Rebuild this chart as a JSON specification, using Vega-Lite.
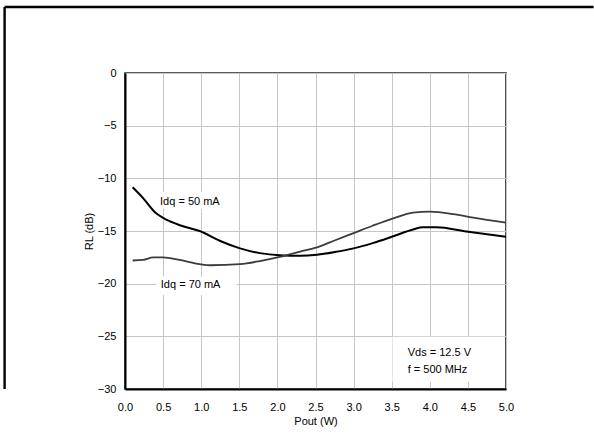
{
  "$schema": "https://vega.github.io/schema/vega-lite/v6.json",
  "width": 381,
  "height": 316,
  "autosize": "none",
  "padding": {"left": 125, "top": 73, "right": 88, "bottom": 50},
  "background": "white",
  "config": {
    "font": "Liberation Sans",
    "view": {"stroke": "#262626", "strokeWidth": 1.6},
    "axis": {
      "labelFont": "Liberation Sans",
      "titleFont": "Liberation Sans",
      "labelFontSize": 11,
      "titleFontSize": 11,
      "labelColor": "#000",
      "titleColor": "#000",
      "titleFontWeight": "normal",
      "gridColor": "#c6c6c6",
      "gridWidth": 1,
      "domainColor": "#000",
      "domainWidth": 2,
      "ticks": false,
      "labelOverlap": false,
      "labelFlush": false
    }
  },
  "datasets": {
    "curves": [
      {"pout": 0.1, "rl": -10.85, "idq": "50 mA"},
      {"pout": 0.24, "rl": -11.9, "idq": "50 mA"},
      {"pout": 0.39, "rl": -13.2, "idq": "50 mA"},
      {"pout": 0.55, "rl": -13.95, "idq": "50 mA"},
      {"pout": 0.72, "rl": -14.45, "idq": "50 mA"},
      {"pout": 0.98, "rl": -15.0, "idq": "50 mA"},
      {"pout": 1.25, "rl": -15.95, "idq": "50 mA"},
      {"pout": 1.51, "rl": -16.65, "idq": "50 mA"},
      {"pout": 1.77, "rl": -17.1, "idq": "50 mA"},
      {"pout": 2.03, "rl": -17.3, "idq": "50 mA"},
      {"pout": 2.3, "rl": -17.35, "idq": "50 mA"},
      {"pout": 2.52, "rl": -17.25, "idq": "50 mA"},
      {"pout": 2.75, "rl": -17.0, "idq": "50 mA"},
      {"pout": 3.0, "rl": -16.65, "idq": "50 mA"},
      {"pout": 3.25, "rl": -16.15, "idq": "50 mA"},
      {"pout": 3.52, "rl": -15.5, "idq": "50 mA"},
      {"pout": 3.78, "rl": -14.85, "idq": "50 mA"},
      {"pout": 3.91, "rl": -14.65, "idq": "50 mA"},
      {"pout": 4.09, "rl": -14.65, "idq": "50 mA"},
      {"pout": 4.48, "rl": -15.05, "idq": "50 mA"},
      {"pout": 5.0, "rl": -15.55, "idq": "50 mA"},
      {"pout": 0.1, "rl": -17.8, "idq": "70 mA"},
      {"pout": 0.24, "rl": -17.75, "idq": "70 mA"},
      {"pout": 0.37, "rl": -17.5, "idq": "70 mA"},
      {"pout": 0.5, "rl": -17.5, "idq": "70 mA"},
      {"pout": 0.72, "rl": -17.75, "idq": "70 mA"},
      {"pout": 0.98, "rl": -18.15, "idq": "70 mA"},
      {"pout": 1.12, "rl": -18.25, "idq": "70 mA"},
      {"pout": 1.51, "rl": -18.15, "idq": "70 mA"},
      {"pout": 1.77, "rl": -17.85, "idq": "70 mA"},
      {"pout": 2.03, "rl": -17.45, "idq": "70 mA"},
      {"pout": 2.3, "rl": -16.95, "idq": "70 mA"},
      {"pout": 2.52, "rl": -16.55, "idq": "70 mA"},
      {"pout": 2.75, "rl": -15.9, "idq": "70 mA"},
      {"pout": 3.0, "rl": -15.2, "idq": "70 mA"},
      {"pout": 3.25, "rl": -14.5, "idq": "70 mA"},
      {"pout": 3.52, "rl": -13.8, "idq": "70 mA"},
      {"pout": 3.78, "rl": -13.25, "idq": "70 mA"},
      {"pout": 4.0, "rl": -13.17, "idq": "70 mA"},
      {"pout": 4.31, "rl": -13.4, "idq": "70 mA"},
      {"pout": 4.57, "rl": -13.74, "idq": "70 mA"},
      {"pout": 5.0, "rl": -14.2, "idq": "70 mA"}
    ],
    "notes": [
      {"pout": 0.46, "rl": -12.2, "label": "Idq = 50 mA"},
      {"pout": 0.47, "rl": -20.13, "label": "Idq = 70 mA"},
      {"pout": 3.71, "rl": -26.6, "label": "Vds = 12.5 V"},
      {"pout": 3.71, "rl": -28.2, "label": "f = 500 MHz"}
    ],
    "anchor": [{}]
  },
  "layer": [
    {
      "data": {"name": "curves"},
      "mark": {"type": "line", "interpolate": "monotone", "opacity": 0},
      "encoding": {
        "x": {
          "field": "pout", "type": "quantitative",
          "scale": {"domain": [0, 5], "nice": false, "zero": false},
          "axis": {"values": [0, 0.5, 1, 1.5, 2, 2.5, 3, 3.5, 4, 4.5, 5], "format": ".1f", "title": "Pout (W)", "labelPadding": 12, "titlePadding": 3}
        },
        "y": {
          "field": "rl", "type": "quantitative",
          "scale": {"domain": [-30, 0], "nice": false, "zero": false},
          "axis": {"values": [-30, -25, -20, -15, -10, -5, 0], "title": "RL (dB)", "labelPadding": 9, "titlePadding": 3}
        },
        "detail": {"field": "idq"}
      }
    },
    {
      "data": {"name": "anchor"},
      "mark": {"type": "rect", "fill": "white"},
      "encoding": {
        "x": {"datum": 0.39, "type": "quantitative", "axis": {"values": [0, 0.5, 1, 1.5, 2, 2.5, 3, 3.5, 4, 4.5, 5], "format": ".1f", "title": "Pout (W)", "labelPadding": 12, "titlePadding": 3}},
        "x2": {"datum": 1.4},
        "y": {"datum": -11.3, "type": "quantitative", "axis": {"values": [-30, -25, -20, -15, -10, -5, 0], "title": "RL (dB)", "labelPadding": 9, "titlePadding": 3}},
        "y2": {"datum": -12.9}
      }
    },
    {
      "data": {"name": "anchor"},
      "mark": {"type": "rect", "fill": "white"},
      "encoding": {
        "x": {"datum": 0.415, "type": "quantitative", "axis": {"values": [0, 0.5, 1, 1.5, 2, 2.5, 3, 3.5, 4, 4.5, 5], "format": ".1f", "title": "Pout (W)", "labelPadding": 12, "titlePadding": 3}},
        "x2": {"datum": 1.466},
        "y": {"datum": -19.34, "type": "quantitative", "axis": {"values": [-30, -25, -20, -15, -10, -5, 0], "title": "RL (dB)", "labelPadding": 9, "titlePadding": 3}},
        "y2": {"datum": -21.08}
      }
    },
    {
      "data": {"name": "anchor"},
      "mark": {"type": "rect", "fill": "white"},
      "encoding": {
        "x": {"datum": 3.51, "type": "quantitative", "axis": {"values": [0, 0.5, 1, 1.5, 2, 2.5, 3, 3.5, 4, 4.5, 5], "format": ".1f", "title": "Pout (W)", "labelPadding": 12, "titlePadding": 3}},
        "x2": {"datum": 4.985},
        "y": {"datum": -25.04, "type": "quantitative", "axis": {"values": [-30, -25, -20, -15, -10, -5, 0], "title": "RL (dB)", "labelPadding": 9, "titlePadding": 3}},
        "y2": {"datum": -29.3}
      }
    },
    {
      "data": {"name": "curves"},
      "mark": {"type": "line", "interpolate": "monotone"},
      "encoding": {
        "x": {"field": "pout", "type": "quantitative", "axis": {"values": [0, 0.5, 1, 1.5, 2, 2.5, 3, 3.5, 4, 4.5, 5], "format": ".1f", "title": "Pout (W)", "labelPadding": 12, "titlePadding": 3}},
        "y": {"field": "rl", "type": "quantitative", "axis": {"values": [-30, -25, -20, -15, -10, -5, 0], "title": "RL (dB)", "labelPadding": 9, "titlePadding": 3}},
        "color": {
          "field": "idq", "type": "nominal",
          "scale": {"domain": ["50 mA", "70 mA"], "range": ["#000000", "#3c3c3c"]},
          "legend": null
        },
        "strokeWidth": {
          "field": "idq", "type": "nominal",
          "scale": {"domain": ["50 mA", "70 mA"], "range": [2, 1.8]},
          "legend": null
        }
      }
    },
    {
      "data": {"name": "notes"},
      "mark": {"type": "text", "align": "left", "baseline": "middle", "font": "Liberation Sans", "fontSize": 11, "color": "#000"},
      "encoding": {
        "x": {"field": "pout", "type": "quantitative", "axis": {"values": [0, 0.5, 1, 1.5, 2, 2.5, 3, 3.5, 4, 4.5, 5], "format": ".1f", "title": "Pout (W)", "labelPadding": 12, "titlePadding": 3}},
        "y": {"field": "rl", "type": "quantitative", "axis": {"values": [-30, -25, -20, -15, -10, -5, 0], "title": "RL (dB)", "labelPadding": 9, "titlePadding": 3}},
        "text": {"field": "label"}
      }
    },
    {
      "data": {"name": "anchor"},
      "mark": {"type": "rule", "color": "#000", "strokeWidth": 2.4, "clip": false},
      "encoding": {
        "x": {"datum": -1.58, "type": "quantitative", "axis": {"values": [0, 0.5, 1, 1.5, 2, 2.5, 3, 3.5, 4, 4.5, 5], "format": ".1f", "title": "Pout (W)", "labelPadding": 12, "titlePadding": 3}},
        "x2": {"datum": 6.15},
        "y": {"datum": 6.27, "type": "quantitative", "axis": {"values": [-30, -25, -20, -15, -10, -5, 0], "title": "RL (dB)", "labelPadding": 9, "titlePadding": 3}}
      }
    },
    {
      "data": {"name": "anchor"},
      "mark": {"type": "rule", "color": "#000", "strokeWidth": 2.4, "clip": false},
      "encoding": {
        "x": {"datum": -1.58, "type": "quantitative", "axis": {"values": [0, 0.5, 1, 1.5, 2, 2.5, 3, 3.5, 4, 4.5, 5], "format": ".1f", "title": "Pout (W)", "labelPadding": 12, "titlePadding": 3}},
        "y": {"datum": 6.27, "type": "quantitative", "axis": {"values": [-30, -25, -20, -15, -10, -5, 0], "title": "RL (dB)", "labelPadding": 9, "titlePadding": 3}},
        "y2": {"datum": -30}
      }
    }
  ]
}
